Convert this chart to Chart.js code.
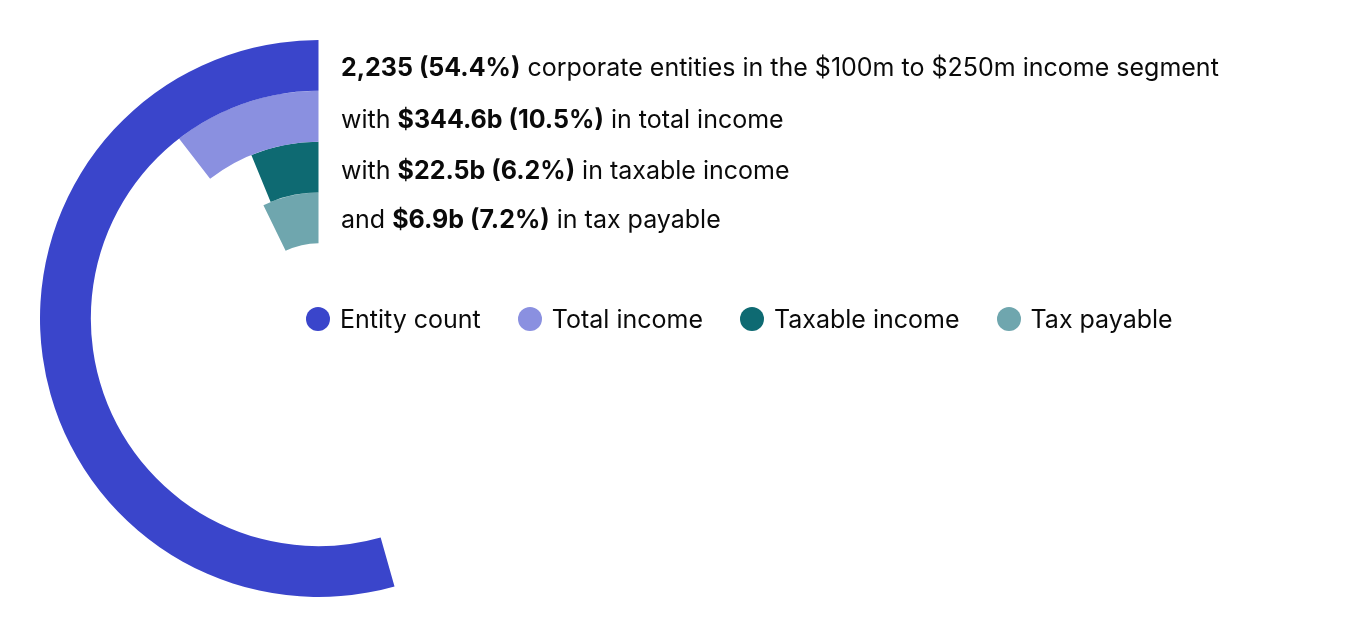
<!DOCTYPE html>
<html>
<head>
<meta charset="utf-8">
<script src="https://cdn.jsdelivr.net/npm/chart.js@4"></script>
<style>
  body { margin: 0; background: #fff; font-family: Inter, "Noto Sans", sans-serif; color: #0a0a0a; }
  #wrap { position: relative; width: 1360px; height: 640px; }
  canvas { position: absolute; left: 0; top: 0; }
  .line { position: absolute; left: 341px; font-size: 25px; line-height: 30px; white-space: nowrap; }
  .line b { font-weight: 700; }
  #legend { position: absolute; left: 306px; top: 304px; display: flex; align-items: center; font-size: 25px; line-height: 30px; }
  .item { display: flex; align-items: center; margin-right: 37px; }
  .dot { width: 24px; height: 24px; border-radius: 50%; margin-right: 10px; }
</style>
</head>
<body>
<div id="wrap">
  <canvas id="radialChart" width="1360" height="640"></canvas>
  <div id="lines"></div>
  <div id="legend"></div>
</div>
<script>
// Data for the chart (share of all corporate entities, %)
const seriesNames = ['Entity count', 'Total income', 'Taxable income', 'Tax payable'];
const seriesValues = [54.4, 10.5, 6.2, 7.2];
const seriesColors = ['#3a45cb', '#8a90e0', '#0e6a72', '#6fa6ae'];

// Annotation text, bold parts in the middle
const lineTexts = [
  ['', '2,235 (54.4%)', ' corporate entities in the $100m to $250m income segment'],
  ['with ', '$344.6b (10.5%)', ' in total income'],
  ['with ', '$22.5b (6.2%)', ' in taxable income'],
  ['and ', '$6.9b (7.2%)', ' in tax payable']
];
const lineTops = [52, 104, 155, 204];

// Each ring: transparent remainder first so the coloured arc ends at 12 o'clock
const datasets = seriesValues.map((v, i) => ({
  label: seriesNames[i],
  data: [100 - v, v],
  backgroundColor: ['rgba(0,0,0,0)', seriesColors[i]],
  borderWidth: 0,
  hoverOffset: 0
}));

const config = {
  type: 'doughnut',
  data: { labels: ['Rest', 'Share'], datasets: datasets },
  options: {
    responsive: false,
    animation: false,
    cutout: '27%',
    layout: { padding: { left: 40, top: 40, bottom: 43, right: 763 } },
    plugins: {
      legend: { display: false },
      tooltip: { enabled: false }
    }
  }
};

const ctx = document.getElementById('radialChart').getContext('2d');
const radialChart = new Chart(ctx, config);

// Text lines
const linesDiv = document.getElementById('lines');
lineTexts.forEach((t, i) => {
  const d = document.createElement('div');
  d.className = 'line';
  d.style.top = lineTops[i] + 'px';
  d.appendChild(document.createTextNode(t[0]));
  const b = document.createElement('b');
  b.textContent = t[1];
  d.appendChild(b);
  d.appendChild(document.createTextNode(t[2]));
  linesDiv.appendChild(d);
});

// Legend
const legendDiv = document.getElementById('legend');
seriesNames.forEach((name, i) => {
  const item = document.createElement('div');
  item.className = 'item';
  const dot = document.createElement('span');
  dot.className = 'dot';
  dot.style.background = seriesColors[i];
  const label = document.createElement('span');
  label.textContent = name;
  item.appendChild(dot);
  item.appendChild(label);
  legendDiv.appendChild(item);
});
</script>
</body>
</html>
